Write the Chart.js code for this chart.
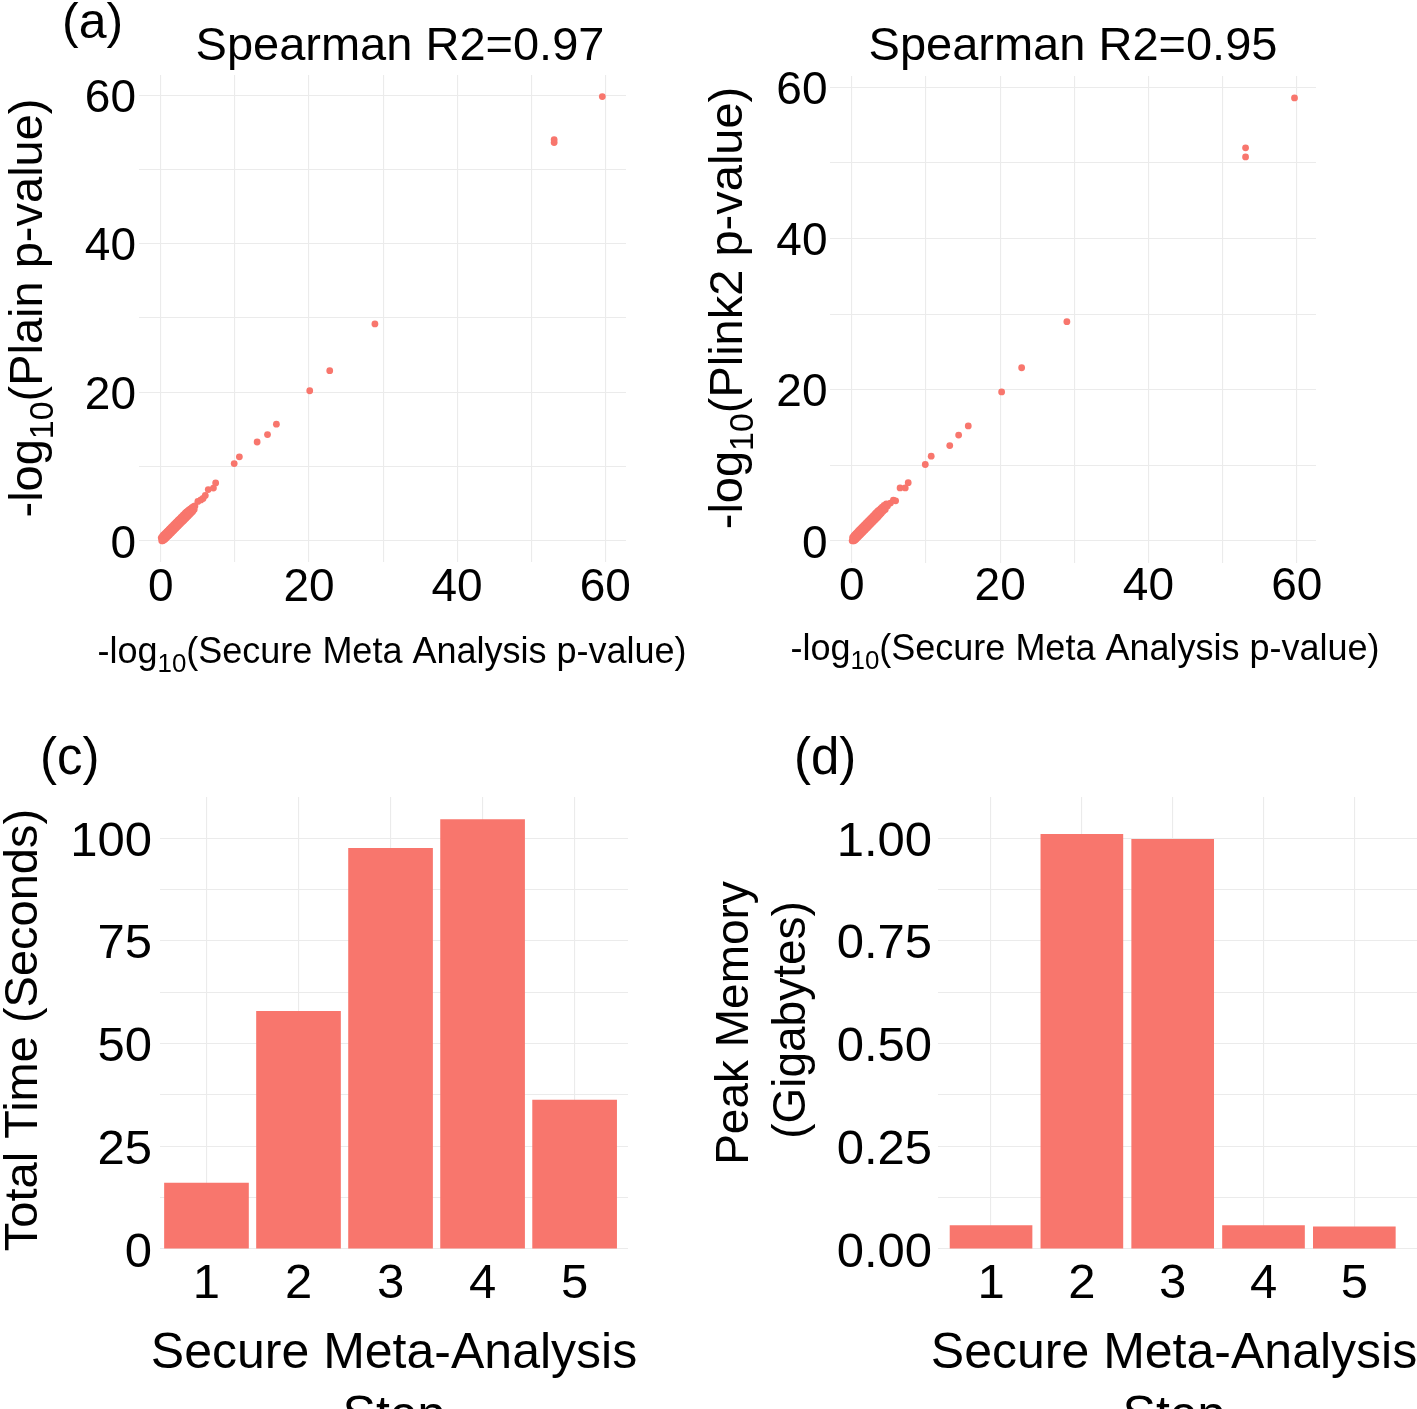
<!DOCTYPE html>
<html>
<head>
<meta charset="utf-8">
<title>Secure meta-analysis: p-value agreement and cost per step</title>
<script src="https://cdn.jsdelivr.net/npm/chart.js@4.4.1/dist/chart.umd.min.js"></script>
<style>
  html, body { margin: 0; padding: 0; background: #fff; overflow: hidden; }
  body { width: 1417px; height: 1409px; position: relative; }
  canvas { position: absolute; }
</style>
</head>
<body>
<canvas id="plainChart" width="700" height="700" style="left:0px;top:0px"></canvas>
<canvas id="plinkChart" width="717" height="700" style="left:700px;top:0px"></canvas>
<canvas id="timeChart" width="700" height="740" style="left:0px;top:720px"></canvas>
<canvas id="memoryChart" width="717" height="740" style="left:700px;top:720px"></canvas>
<script>
// -log10 p-values, secure meta analysis (x) vs plain analysis (y)
const plainSecureX = [0.05, 0.12, 0.2, 0.25, 0.33, 0.4, 0.48, 0.55, 0.62, 0.7, 0.78, 0.85, 0.92, 1.0, 1.08, 1.15, 1.22, 1.3, 1.38, 1.45,
    1.52, 1.6, 1.68, 1.75, 1.82, 1.9, 1.98, 2.05, 2.12, 2.2, 2.28, 2.35, 2.42, 2.5, 2.58, 2.65, 2.72, 2.8, 2.88, 2.95,
    3.02, 3.1, 3.18, 3.25, 3.32, 3.4, 3.48, 3.55, 3.62, 3.7, 3.8, 3.9, 4.0, 4.1, 4.2, 4.3, 4.4, 4.5, 4.6,
    5.0, 5.4, 5.7, 6.0, 6.4, 7.1, 7.4, 9.9, 10.6, 13.0, 14.4, 15.6, 20.1, 22.8, 28.9, 53.1, 53.1, 59.6];
const plainY = [0.4, 0.0, 0.6, 0.0, 0.75, 0.1, 0.9, 0.2, 1.05, 0.35, 1.2, 0.5, 1.35, 0.65, 1.5, 0.8, 1.65, 0.95, 1.8, 1.1,
    1.95, 1.25, 2.1, 1.4, 2.25, 1.55, 2.4, 1.7, 2.55, 1.85, 2.7, 2.0, 2.85, 2.15, 3.0, 2.3, 3.15, 2.45, 3.3, 2.6,
    3.45, 2.75, 3.6, 2.9, 3.75, 3.05, 3.9, 3.2, 4.0, 3.35, 4.15, 3.55, 4.3, 3.75, 4.45, 3.95, 4.6, 4.2, 4.7,
    5.3, 5.5, 5.7, 6.1, 6.9, 7.1, 7.8, 10.4, 11.3, 13.3, 14.3, 15.7, 20.2, 22.9, 29.2, 53.6, 54.0, 59.8];

// -log10 p-values, secure meta analysis (x) vs Plink2 (y)
const plinkSecureX = [0.04, 0.1, 0.18, 0.26, 0.3, 0.38, 0.45, 0.52, 0.6, 0.68, 0.75, 0.82, 0.9, 0.98, 1.05, 1.12, 1.2, 1.28, 1.35, 1.42,
    1.5, 1.58, 1.65, 1.72, 1.8, 1.88, 1.95, 2.02, 2.1, 2.18, 2.25, 2.32, 2.4, 2.48, 2.55, 2.62, 2.7, 2.78, 2.85, 2.92,
    3.0, 3.08, 3.15, 3.22, 3.3, 3.38, 3.45, 3.52, 3.6, 3.68, 3.78, 3.88, 3.98, 4.1, 4.22, 4.35, 4.5, 4.65, 4.8,
    5.2, 5.6, 5.9, 6.5, 7.2, 7.6, 9.9, 10.7, 13.2, 14.4, 15.7, 20.2, 22.9, 29.0, 53.1, 53.1, 59.7];
const plinkY = [0.0, 0.45, 0.0, 0.65, 0.0, 0.8, 0.1, 0.95, 0.25, 1.1, 0.4, 1.25, 0.55, 1.4, 0.7, 1.55, 0.85, 1.7, 1.0, 1.85,
    1.15, 2.0, 1.3, 2.15, 1.45, 2.3, 1.6, 2.45, 1.75, 2.6, 1.9, 2.75, 2.05, 2.9, 2.2, 3.05, 2.35, 3.2, 2.5, 3.35,
    2.65, 3.5, 2.8, 3.65, 2.95, 3.8, 3.1, 3.95, 3.25, 4.05, 3.45, 4.25, 3.65, 4.45, 3.9, 4.7, 4.15, 4.9, 4.6,
    5.0, 5.4, 5.3, 7.0, 7.0, 7.7, 10.1, 11.2, 12.6, 14.0, 15.2, 19.7, 22.9, 29.0, 52.0, 50.8, 58.6];

// cost of each secure meta-analysis step
const steps = [1, 2, 3, 4, 5];
const totalTimeSeconds = [16.1, 57.9, 97.6, 104.6, 36.3];
const peakMemoryGb = [0.058, 1.010, 0.998, 0.058, 0.055];

// grid lines and labelled ticks
const scatterGrid = [0, 10, 20, 30, 40, 50, 60];
const scatterLabels = [0, 20, 40, 60];
const timeGrid = [0, 12.5, 25, 37.5, 50, 62.5, 75, 87.5, 100];
const timeLabels = [0, 25, 50, 75, 100];
const memoryGrid = [0, 0.125, 0.25, 0.375, 0.5, 0.625, 0.75, 0.875, 1];
const memoryLabels = [0, 0.25, 0.5, 0.75, 1];

const red = '#F8766D';
const gridColor = '#ebebeb';
const fontFamily = '"Liberation Sans", Arial, Helvetica, sans-serif';

Chart.defaults.font.family = fontFamily;
Chart.defaults.color = '#000';

function fontStr(size) {
    return size + 'px ' + fontFamily;
}

// draws panel tags, titles and axis titles (with a real subscript for log10)
const panelText = {
    id: 'panelText',
    afterDraw(chart, args, opts) {
        const ctx = chart.ctx;
        const offX = opts.left || 0;
        const offY = opts.top || 0;
        (opts.items || []).forEach(function (item) {
            const segs = item.segs || [[item.text, false]];
            const size = item.size;
            const widths = segs.map(function (s) {
                ctx.font = fontStr(s[1] ? size * 0.72 : size);
                return ctx.measureText(s[0]).width;
            });
            const total = widths.reduce(function (a, b) { return a + b; }, 0);
            ctx.save();
            ctx.fillStyle = '#000';
            ctx.textBaseline = 'alphabetic';
            ctx.textAlign = 'left';
            ctx.translate(item.x - offX, item.y - offY);
            if (item.rot) ctx.rotate(item.rot * Math.PI / 180);
            let x = item.align === 'left' ? 0 : -total / 2;
            segs.forEach(function (s, i) {
                ctx.font = fontStr(s[1] ? size * 0.72 : size);
                ctx.fillText(s[0], x, s[1] ? size * 0.24 : 0);
                x += widths[i];
            });
            ctx.restore();
        });
    }
};

function gridTicks(values) {
    return function (scale) {
        scale.ticks = values.map(function (v) { return { value: v }; });
    };
}

function scatterChart(id, xs, ys, o) {
    const points = xs.map(function (x, i) { return { x: x, y: ys[i] }; });
    return new Chart(document.getElementById(id), {
        type: 'scatter',
        data: {
            datasets: [{
                data: points,
                backgroundColor: red,
                borderWidth: 0,
                pointRadius: 3.4,
                pointHoverRadius: 3.4
            }]
        },
        options: {
            responsive: false,
            animation: false,
            layout: { padding: o.padding },
            plugins: {
                legend: { display: false },
                tooltip: { enabled: false },
                panelText: { left: o.left, top: o.top, items: o.texts }
            },
            scales: {
                x: {
                    type: 'linear',
                    min: o.xMin, max: o.xMax,
                    afterBuildTicks: gridTicks(scatterGrid),
                    afterFit: function (s) { s.height = o.xAxisHeight; },
                    border: { display: false },
                    grid: { color: gridColor, lineWidth: 1.1, drawTicks: false },
                    ticks: {
                        autoSkip: false, maxRotation: 0,
                        padding: o.xTickPad,
                        font: { size: 46, lineHeight: 1 },
                        callback: function (v) { return scatterLabels.includes(v) ? String(v) : ''; }
                    }
                },
                y: {
                    type: 'linear',
                    min: o.yMin, max: o.yMax,
                    afterBuildTicks: gridTicks(scatterGrid),
                    afterFit: function (s) { s.width = o.yAxisWidth; },
                    border: { display: false },
                    grid: { color: gridColor, lineWidth: 1.1, drawTicks: false },
                    ticks: {
                        autoSkip: false,
                        padding: o.yTickPad,
                        labelOffset: 4,
                        font: { size: 46, lineHeight: 1 },
                        callback: function (v) { return scatterLabels.includes(v) ? String(v) : ''; }
                    }
                }
            }
        },
        plugins: [panelText]
    });
}

function barChart(id, values, o) {
    const bars = steps.map(function (s, i) { return { x: s, y: values[i] }; });
    return new Chart(document.getElementById(id), {
        type: 'bar',
        data: {
            datasets: [{
                data: bars,
                backgroundColor: red,
                borderWidth: 0,
                barPercentage: o.barPct,
                categoryPercentage: 1
            }]
        },
        options: {
            responsive: false,
            animation: false,
            layout: { padding: o.padding },
            plugins: {
                legend: { display: false },
                tooltip: { enabled: false },
                panelText: { left: o.left, top: o.top, items: o.texts }
            },
            scales: {
                x: {
                    type: 'linear',
                    offset: false,
                    min: o.xMin, max: o.xMax,
                    afterBuildTicks: gridTicks(steps),
                    afterFit: function (s) { s.height = o.xAxisHeight; },
                    border: { display: false },
                    grid: { color: gridColor, lineWidth: 1.1, drawTicks: false, offset: false },
                    ticks: {
                        autoSkip: false, maxRotation: 0,
                        padding: 10.5,
                        font: { size: 49, lineHeight: 1 },
                        callback: function (v) { return String(v); }
                    }
                },
                y: {
                    type: 'linear',
                    min: 0, max: o.yMax,
                    afterBuildTicks: gridTicks(o.grid),
                    afterFit: function (s) { s.width = o.yAxisWidth; },
                    border: { display: false },
                    grid: { color: gridColor, lineWidth: 1.1, drawTicks: false },
                    ticks: {
                        autoSkip: false,
                        padding: o.yTickPad,
                        labelOffset: 4,
                        font: { size: 49, lineHeight: 1 },
                        callback: o.label
                    }
                }
            }
        },
        plugins: [panelText]
    });
}

const logSub = function (rest) { return [['-log', false], ['10', true], [rest, false]]; };

// (a) plain analysis
scatterChart('plainChart', plainSecureX, plainY, {
    left: 0, top: 0,
    padding: { top: 75, right: 74, left: 0, bottom: 0 },
    yAxisWidth: 139, xAxisHeight: 138,
    xMin: -2.95, xMax: 62.8, yMin: -2.85, yMax: 62.7,
    xTickPad: 3.5, yTickPad: 3,
    texts: [
        { text: '(a)', x: 62, y: 38, size: 50, align: 'left' },
        { text: 'Spearman R2=0.97', x: 400, y: 60, size: 47 },
        { segs: logSub('(Secure Meta Analysis p-value)'), x: 392, y: 663, size: 36 },
        { segs: logSub('(Plain p-value)'), x: 42, y: 308, size: 47, rot: -90 }
    ]
});

// (b) Plink2
scatterChart('plinkChart', plinkSecureX, plinkY, {
    left: 700, top: 0,
    padding: { top: 76, right: 101, left: 0, bottom: 0 },
    yAxisWidth: 130, xAxisHeight: 137,
    xMin: -2.95, xMax: 62.6, yMin: -2.93, yMax: 61.5,
    xTickPad: 1.5, yTickPad: 2.5,
    texts: [
        { text: 'Spearman R2=0.95', x: 1073, y: 60, size: 47 },
        { segs: logSub('(Secure Meta Analysis p-value)'), x: 1085, y: 660, size: 36 },
        { segs: logSub('(Plink2 p-value)'), x: 742, y: 308, size: 47, rot: -90 }
    ]
});

// (c) total time per step
barChart('timeChart', totalTimeSeconds, {
    left: 0, top: 720,
    padding: { top: 77, right: 72, left: 0, bottom: 0 },
    yAxisWidth: 160, xAxisHeight: 211,
    xMin: 0.495, xMax: 5.58, yMax: 110,
    grid: timeGrid, barPct: 0.92, yTickPad: 8,
    label: function (v) { return timeLabels.includes(v) ? String(v) : ''; },
    texts: [
        { text: '(c)', x: 40, y: 774, size: 51, align: 'left' },
        { text: 'Secure Meta-Analysis', x: 394, y: 1368, size: 50 },
        { text: 'Step', x: 394, y: 1431, size: 50 },
        { text: 'Total Time (Seconds)', x: 37, y: 1030, size: 47, rot: -90 }
    ]
});

// (d) peak memory per step
barChart('memoryChart', peakMemoryGb, {
    left: 700, top: 720,
    padding: { top: 77, right: 0, left: 0, bottom: 0 },
    yAxisWidth: 238, xAxisHeight: 211,
    xMin: 0.416, xMax: 5.69, yMax: 1.1,
    grid: memoryGrid, barPct: 0.91, yTickPad: 6,
    label: function (v) { return memoryLabels.includes(v) ? v.toFixed(2) : ''; },
    texts: [
        { text: '(d)', x: 794, y: 774, size: 51, align: 'left' },
        { text: 'Secure Meta-Analysis', x: 1174, y: 1368, size: 50 },
        { text: 'Step', x: 1174, y: 1431, size: 50 },
        { text: 'Peak Memory', x: 748, y: 1023, size: 46, rot: -90 },
        { text: '(Gigabytes)', x: 805, y: 1020, size: 46, rot: -90 }
    ]
});
</script>
</body>
</html>
